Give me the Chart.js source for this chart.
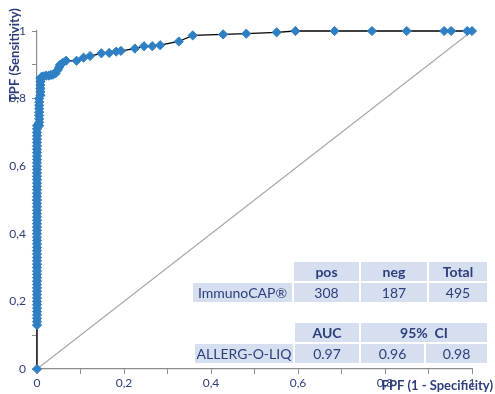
<!DOCTYPE html>
<html lang="en">
<head>
    <meta charset="UTF-8">
    <title>ROC curve ALLERG-O-LIQ</title>
    <style>
        body {
            margin: 0;
            background-color: #fff;
            font-family: Lato, "Open Sans", sans-serif;
        }
        #wrap {
            position: relative;
            width: 495px;
            height: 394px;
        }
        .stats {
            position: absolute;
            border-collapse: separate;
            border-spacing: 2px;
            table-layout: fixed;
            font-size: 14px;
            color: #2d3d7c;
        }
        .stats td {
            background-color: #d5dfef;
            text-align: center;
            padding: 0;
            height: 19px;
            line-height: 19px;
            white-space: nowrap;
        }
        .stats td.empty {
            background-color: transparent;
        }
        .stats td.head {
            font-weight: bold;
        }
    </style>
    <script src="https://cdn.jsdelivr.net/npm/chart.js"></script>
</head>
<body>
    <div id="wrap">
        <canvas id="rocChart" width="495" height="394"></canvas>

        <table class="stats" style="left:191px; top:260px;">
            <colgroup><col style="width:99px"><col style="width:65px"><col style="width:66px"><col style="width:58px"></colgroup>
            <tr><td class="empty"></td><td class="head">pos</td><td class="head">neg</td><td class="head">Total</td></tr>
            <tr><td>ImmunoCAP®</td><td>308</td><td>187</td><td>495</td></tr>
        </table>

        <table class="stats" style="left:193px; top:321px;">
            <colgroup><col style="width:98px"><col style="width:64px"><col style="width:63px"><col style="width:61px"></colgroup>
            <tr><td class="empty"></td><td class="head">AUC</td><td class="head" colspan="2">95%&nbsp; CI</td></tr>
            <tr><td>ALLERG-O-LIQ</td><td>0.97</td><td>0.96</td><td>0.98</td></tr>
        </table>
    </div>
    <script>
        // ROC points (FPF = 1 - specificity, TPF = sensitivity)
        const fprValues = [
            0,
            0, 0, 0, 0, 0, 0, 0, 0, 0, 0,
            0, 0, 0, 0, 0, 0, 0, 0, 0, 0,
            0, 0, 0, 0, 0, 0, 0, 0, 0, 0,
            0, 0, 0, 0, 0, 0, 0, 0, 0, 0,
            0, 0, 0, 0, 0, 0, 0, 0, 0, 0,
            0, 0, 0, 0, 0, 0, 0, 0, 0, 0,
            0.005, 0.005, 0.005, 0.005, 0.005, 0.005, 0.005, 0.005, 0.005,
            0.008, 0.008, 0.008, 0.008, 0.008, 0.008,
            0.011, 0.016, 0.021, 0.027, 0.032, 0.037, 0.043,
            0.048, 0.051, 0.053, 0.059, 0.067,
            0.091, 0.107, 0.122, 0.148, 0.166, 0.182, 0.193,
            0.225, 0.246, 0.265, 0.283, 0.326, 0.358,
            0.428, 0.481, 0.551, 0.594, 0.684, 0.770, 0.850,
            0.936, 0.952, 0.989, 1
        ];
        const tprValues = [
            0,
            0.13, 0.14, 0.15, 0.16, 0.17, 0.18, 0.19, 0.20, 0.21, 0.22,
            0.23, 0.24, 0.25, 0.26, 0.27, 0.28, 0.29, 0.30, 0.31, 0.32,
            0.33, 0.34, 0.35, 0.36, 0.37, 0.38, 0.39, 0.40, 0.41, 0.42,
            0.43, 0.44, 0.45, 0.46, 0.47, 0.48, 0.49, 0.50, 0.51, 0.52,
            0.53, 0.54, 0.55, 0.56, 0.57, 0.58, 0.59, 0.60, 0.61, 0.62,
            0.63, 0.64, 0.65, 0.66, 0.67, 0.68, 0.69, 0.70, 0.71, 0.72,
            0.72, 0.73, 0.74, 0.75, 0.76, 0.77, 0.78, 0.79, 0.80,
            0.81, 0.82, 0.83, 0.84, 0.85, 0.86,
            0.865, 0.866, 0.868, 0.868, 0.870, 0.871, 0.875,
            0.885, 0.893, 0.900, 0.906, 0.912,
            0.912, 0.921, 0.926, 0.934, 0.935, 0.939, 0.941,
            0.948, 0.955, 0.955, 0.958, 0.969, 0.987,
            0.990, 0.992, 0.996, 1, 1, 1, 1,
            1, 1, 1, 1
        ];
        // reference line of chance
        const chanceX = [0, 1];
        const chanceY = [0, 1];

        const xTitle = 'FPF (1 - Specificity)';
        const yTitle = 'TPF (Sensitivity)';

        const labelColor = '#2d3d7c';
        const axisColor = '#8c8c8c';

        const rocPoints = fprValues.map((x, i) => ({ x: x, y: tprValues[i] }));
        const chancePoints = chanceX.map((x, i) => ({ x: x, y: chanceY[i] }));

        // Excel style: tick marks every 0.1, labels every 0.2, decimal comma
        function tickLabel(value) {
            const r = Math.round(value * 10);
            if (r % 2 !== 0) return '';
            if (r === 0) return '0';
            if (r === 10) return '1';
            return (r / 10).toFixed(1).replace('.', ',');
        }

        // axis titles overlap the tick labels in the original, so draw them by hand
        const axisTitles = {
            id: 'axisTitles',
            afterDraw(chart) {
                const c = chart.ctx;
                const area = chart.chartArea;
                c.save();
                c.fillStyle = labelColor;
                c.font = 'bold 13px Lato, "Open Sans", sans-serif';
                c.textBaseline = 'middle';
                c.textAlign = 'right';
                c.fillText(xTitle, area.right + 21, area.bottom + 17);
                c.translate(15, area.top + 24);
                c.rotate(-Math.PI / 2);
                c.textAlign = 'center';
                c.fillText(yTitle, 0, 0);
                c.restore();
            }
        };

        const ctx = document.getElementById('rocChart').getContext('2d');
        const rocChart = new Chart(ctx, {
            type: 'scatter',
            data: {
                datasets: [
                    {
                        label: 'chance',
                        data: chancePoints,
                        showLine: true,
                        borderColor: '#a6a6a6',
                        borderWidth: 1.2,
                        pointRadius: 0,
                        order: 2
                    },
                    {
                        label: 'ALLERG-O-LIQ',
                        data: rocPoints,
                        clip: false,
                        showLine: true,
                        borderColor: '#000000',
                        borderWidth: 1.3,
                        pointStyle: 'rectRot',
                        pointRadius: 4.6,
                        pointBackgroundColor: '#2f7fc4',
                        pointBorderColor: '#2f7fc4',
                        pointBorderWidth: 1,
                        order: 1
                    }
                ]
            },
            options: {
                responsive: false,
                animation: false,
                layout: { padding: { top: 31, right: 23, left: 0, bottom: 0 } },
                plugins: {
                    legend: { display: false },
                    tooltip: { enabled: false }
                },
                scales: {
                    x: {
                        type: 'linear',
                        min: 0,
                        max: 1,
                        afterFit: (scale) => { scale.height = 25; },
                        border: { color: axisColor, width: 1.2 },
                        grid: { drawOnChartArea: false, drawTicks: true, tickLength: 5, color: axisColor },
                        ticks: {
                            stepSize: 0.1,
                            autoSkip: false,
                            maxRotation: 0,
                            padding: 2,
                            color: labelColor,
                            font: { family: 'Lato, "Open Sans", sans-serif', size: 12 },
                            callback: tickLabel
                        }
                    },
                    y: {
                        type: 'linear',
                        min: 0,
                        max: 1,
                        afterFit: (scale) => { scale.width = 37; },
                        border: { color: axisColor, width: 1.2 },
                        grid: { drawOnChartArea: false, drawTicks: true, tickLength: 5, color: axisColor },
                        ticks: {
                            stepSize: 0.1,
                            autoSkip: false,
                            padding: 6,
                            color: labelColor,
                            font: { family: 'Lato, "Open Sans", sans-serif', size: 12 },
                            callback: tickLabel
                        }
                    }
                }
            },
            plugins: [axisTitles]
        });
    </script>
</body>
</html>
